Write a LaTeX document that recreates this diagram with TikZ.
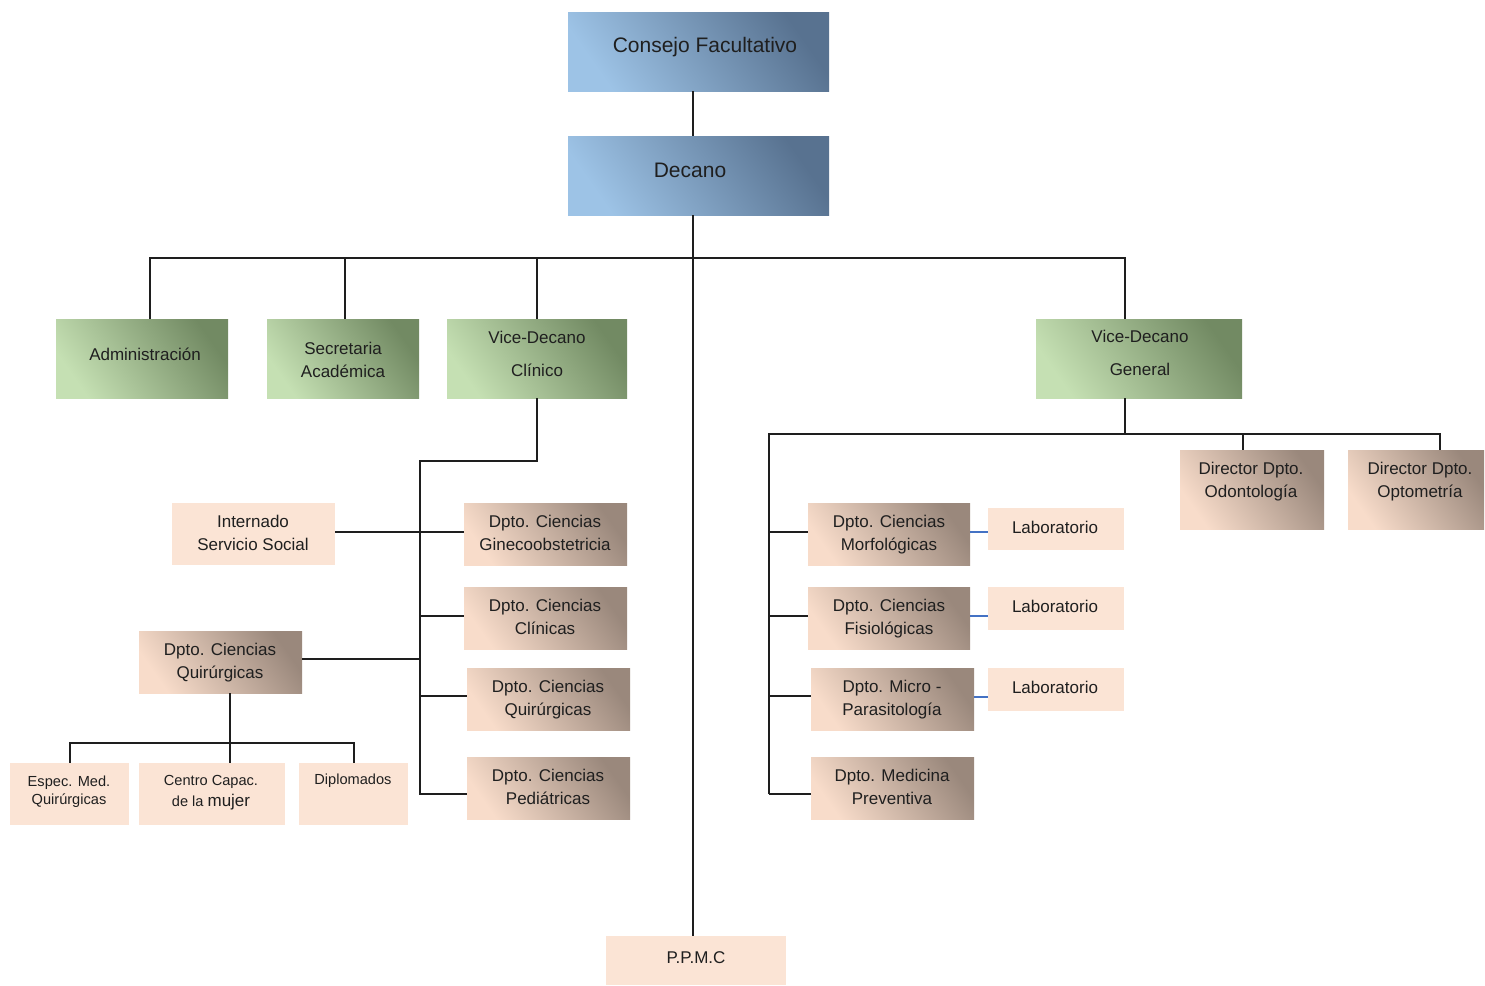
\documentclass[tikz,border=0pt]{standalone}
\usepackage{fontspec}
\setmainfont{Liberation Sans}
\usetikzlibrary{fit,calc}
\definecolor{bl1}{HTML}{9DC3E6}
\definecolor{bl2}{HTML}{587290}
\definecolor{gr1}{HTML}{C5E0B3}
\definecolor{gr2}{HTML}{728A63}
\definecolor{tn1}{HTML}{F8DCCA}
\definecolor{tn2}{HTML}{9A887C}
\definecolor{pch}{HTML}{FBE4D5}
\definecolor{ln}{HTML}{1E1E1E}
\definecolor{lnb}{HTML}{4472C4}
\tikzset{
  box/.style={inner sep=0pt, draw=none},
  bluebox/.style={box, bottom color=bl1, top color=bl2, shading angle=-55},
  greenbox/.style={box, bottom color=gr1, top color=gr2, shading angle=-55},
  tanbox/.style={box, bottom color=tn1, top color=tn2, shading angle=-55},
  peachbox/.style={box, fill=pch},
  txt/.style={font=\fontsize{8.5}{11.5}\selectfont, align=center, inner sep=0pt, text=black!88},
  dsc/.style={yshift=-1pt},
  bigtxt/.style={txt, font=\fontsize{10.5}{12}\selectfont},
  vtxt/.style={txt, font=\fontsize{8.5}{16.5}\selectfont},
  smalltxt/.style={txt, font=\fontsize{7.3}{9}\selectfont},
  conn/.style={draw=ln, line width=1pt},
  bconn/.style={draw=lnb, line width=0.6pt}
}
\begin{document}
\begin{tikzpicture}[x=0.5pt,y=-0.5pt]
\useasboundingbox (0,0) rectangle (1485,986);
\fill[white] (0,0) rectangle (1485,986);

% coordinates for connector positions
\coordinate (xm) at (693,0);
\coordinate (xa) at (150,0);
\coordinate (xs) at (345,0);
\coordinate (xg) at (1125,0);
\coordinate (bus) at (693,258);
\coordinate (jc) at (420,461);
\coordinate (xq) at (230,0);
\coordinate (bq) at (230,743);
\coordinate (jg) at (769,434);
\coordinate (xo1) at (1243,0);
\coordinate (xo2) at (1440,0);

% blue
\node[bluebox, fit={(568,12)(829,91)}] (cf) {};
\node[bigtxt, dsc] (cf-t) at (705,45) {Consejo Facultativo};
\node[bluebox, fit={(568,136)(829,215)}] (dec) {};
\node[bigtxt] (dec-t) at (690,170) {Decano};

% green
\node[greenbox, fit={(56,319)(228,398)}] (adm) {};
\node[txt] (adm-t) at (145,354) {Administración};
\node[greenbox, fit={(267,319)(419,398)}] (sec) {};
\node[txt] (sec-t) at (343,360) {Secretaria\\Académica};
\node[greenbox, fit={(447,319)(627,398)}] (vdc) {};
\node[vtxt] (vdc-t) at (537,354) {Vice-Decano\\Clínico};
\node[greenbox, fit={(1036,319)(1242,398)}] (vdg) {};
\node[vtxt] (vdg-t) at (1140,353) {Vice-Decano\\General};

% tan gradient
\node[tanbox, fit={(464,503)(627,565)}] (gin) {};
\node[txt] (gin-t) at (545,533) {Dpto. Ciencias\\Ginecoobstetricia};
\node[tanbox, fit={(464,587)(627,649)}] (cli) {};
\node[txt] (cli-t) at (545,617) {Dpto. Ciencias\\Clínicas};
\node[tanbox, fit={(467,668)(630,730)}] (qr) {};
\node[txt, dsc] (qr-t) at (548,698) {Dpto. Ciencias\\Quirúrgicas};
\node[tanbox, fit={(467,757)(630,819)}] (ped) {};
\node[txt] (ped-t) at (548,787) {Dpto. Ciencias\\Pediátricas};
\node[tanbox, fit={(139,631)(302,693)}] (ql) {};
\node[txt, dsc] (ql-t) at (220,661) {Dpto. Ciencias\\Quirúrgicas};
\node[tanbox, fit={(808,503)(970,565)}] (mor) {};
\node[txt, dsc] (mor-t) at (889,533) {Dpto. Ciencias\\Morfológicas};
\node[tanbox, fit={(808,587)(970,649)}] (fis) {};
\node[txt, dsc] (fis-t) at (889,617) {Dpto. Ciencias\\Fisiológicas};
\node[tanbox, fit={(811,668)(974,730)}] (mic) {};
\node[txt, dsc] (mic-t) at (892,698) {Dpto. Micro -\\Parasitología};
\node[tanbox, fit={(811,757)(974,819)}] (pre) {};
\node[txt] (pre-t) at (892,787) {Dpto. Medicina\\Preventiva};
\node[tanbox, fit={(1180,450)(1324,529)}] (odo) {};
\node[txt, dsc] (odo-t) at (1251,480) {Director Dpto.\\Odontología};
\node[tanbox, fit={(1348,450)(1484,529)}] (opt) {};
\node[txt, dsc] (opt-t) at (1420,480) {Director Dpto.\\Optometría};

% peach flat
\node[peachbox, fit={(172,503)(335,565)}] (int) {};
\node[txt] (int-t) at (253,533) {Internado\\Servicio Social};
\node[peachbox, fit={(10,763)(129,825)}] (esp) {};
\node[smalltxt, dsc] (esp-t) at (69,790) {Espec. Med.\\Quirúrgicas};
\node[peachbox, fit={(139,763)(285,825)}] (cen) {};
\node[smalltxt, font=\fontsize{7.3}{10.5}\selectfont, dsc] (cen-t) at (211,791) {Centro Capac.\\de la {\fontsize{8.5}{10.5}\selectfont mujer}};
\node[peachbox, fit={(299,763)(408,825)}] (dip) {};
\node[smalltxt] (dip-t) at (353,781) {Diplomados};
\node[peachbox, fit={(988,508)(1124,550)}] (lab1) {};
\node[txt] (lab1-t) at (1055,527) {Laboratorio};
\node[peachbox, fit={(988,587)(1124,630)}] (lab2) {};
\node[txt] (lab2-t) at (1055,606) {Laboratorio};
\node[peachbox, fit={(988,668)(1124,711)}] (lab3) {};
\node[txt] (lab3-t) at (1055,687) {Laboratorio};
\node[peachbox, fit={(606,936)(786,985)}] (ppmc) {};
\node[txt] (ppmc-t) at (696,958) {P.P.M.C};

% connectors
\draw[conn] (cf.south -| xm) -- (dec.north -| xm);
\draw[conn] (dec.south -| xm) -- (ppmc.north -| xm);
\draw[conn] (adm.north -| xa) |- (bus) -| (vdg.north -| xg);
\draw[conn] (sec.north -| xs) -- (xs |- bus);
\draw[conn] (vdc.north) -- (vdc.north |- bus);

\draw[conn] (vdc.south) |- (jc) -- ($(jc |- ped.west)+(0,6)$) -- ($(ped.west)+(0,6)$);
\draw[conn] ($(int.east)+(0,-2)$) -- ($(gin.west)+(0,-2)$);
\draw[conn] ($(cli.west -| jc)+(0,-2)$) -- ($(cli.west)+(0,-2)$);
\draw[conn] ($(qr.west -| jc)+(0,-3)$) -- ($(qr.west)+(0,-3)$);
\draw[conn] ($(ql.east)+(0,-3)$) -- ($(ql.east -| jc)+(0,-3)$);
\draw[conn] (ql.south -| xq) -- (cen.north -| xq);
\draw[conn] (esp.north) |- (bq) -| (dip.north);

\draw[conn] (vdg.south -| xg) -- (xg |- jg);
\draw[conn] ($(jg |- pre.west)+(0,6)$) -- (jg) -| (opt.north -| xo2);
\draw[conn] (odo.north -| xo1) -- (xo1 |- jg);
\draw[conn] ($(mor.west -| jg)+(0,-2)$) -- ($(mor.west)+(0,-2)$);
\draw[conn] ($(fis.west -| jg)+(0,-2)$) -- ($(fis.west)+(0,-2)$);
\draw[conn] ($(mic.west -| jg)+(0,-3)$) -- ($(mic.west)+(0,-3)$);
\draw[conn] ($(pre.west -| jg)+(0,6)$) -- ($(pre.west)+(0,6)$);

\draw[bconn] ($(mor.east)+(0,-2)$) -- ($(mor.east -| lab1.west)+(0,-2)$);
\draw[bconn] ($(fis.east)+(0,-2)$) -- ($(fis.east -| lab2.west)+(0,-2)$);
\draw[bconn] ($(mic.east)+(0,-2)$) -- ($(mic.east -| lab3.west)+(0,-2)$);
\end{tikzpicture}
\end{document}
